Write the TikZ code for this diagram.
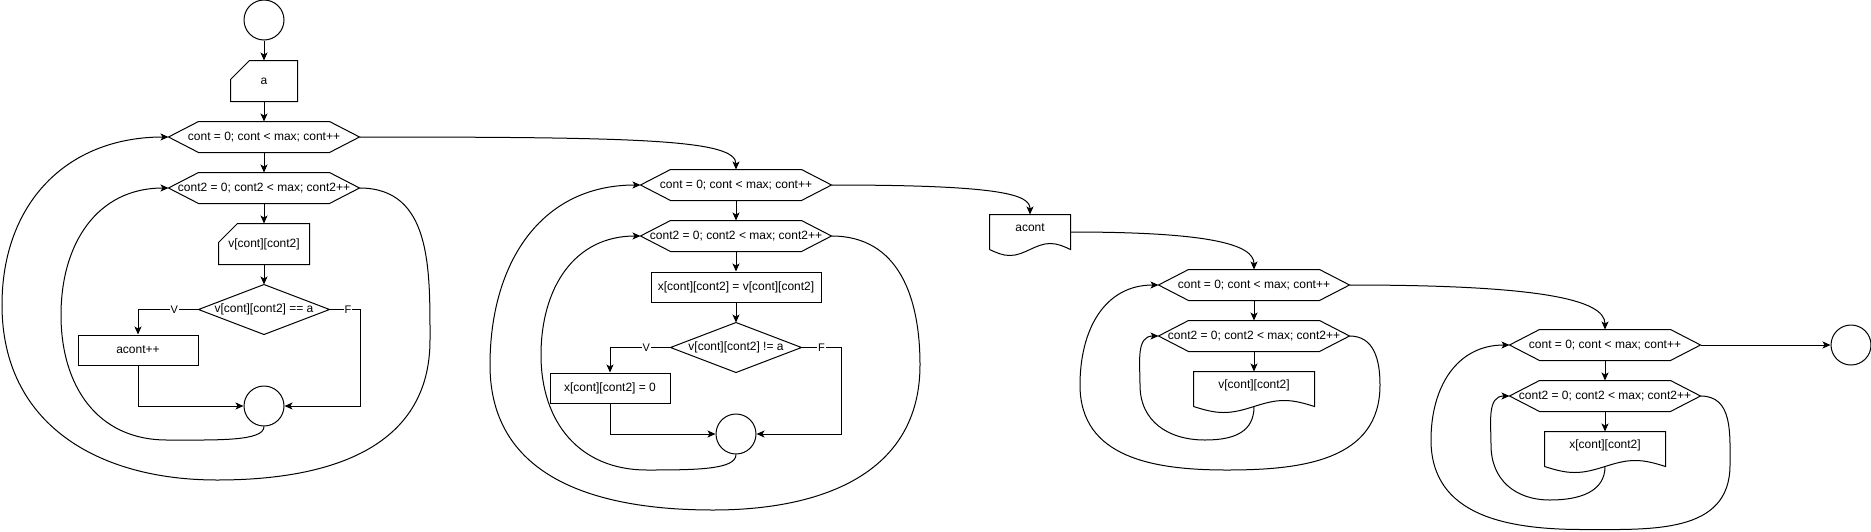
\documentclass[tikz,border=0pt]{standalone}
\usepackage{fontspec}
\setmainfont{Liberation Sans}
\usetikzlibrary{positioning,arrows.meta,calc}

\begin{document}
\begin{tikzpicture}[
  x=1pt,y=1pt,
  line width=1pt,
  font=\fontsize{12}{14}\selectfont,
  node distance=20pt,
  circ/.style={draw,circle,minimum size=40pt,inner sep=0pt},
  proc/.style={draw,minimum height=30pt,inner sep=2pt},
  loophex/.style={minimum width=190pt,minimum height=30pt,inner sep=0pt,
    append after command={\pgfextra{\draw (\tikzlastnode.west)
      -- ([xshift=30pt]\tikzlastnode.north west) -- ([xshift=-30pt]\tikzlastnode.north east)
      -- (\tikzlastnode.east) -- ([xshift=-30pt]\tikzlastnode.south east)
      -- ([xshift=30pt]\tikzlastnode.south west) -- cycle;}}},
  cond/.style={minimum width=130pt,minimum height=49pt,inner sep=0pt,
    append after command={\pgfextra{\draw (\tikzlastnode.west) -- (\tikzlastnode.north)
      -- (\tikzlastnode.east) -- (\tikzlastnode.south) -- cycle;}}},
  readin/.style={minimum height=40pt,inner sep=0pt,
    append after command={\pgfextra{\draw (\tikzlastnode.south west)
      -- ([yshift=-19pt]\tikzlastnode.north west) -- ([xshift=19pt]\tikzlastnode.north west)
      -- (\tikzlastnode.north east) -- (\tikzlastnode.south east) -- cycle;}}},
  printout/.style={minimum height=34pt,inner sep=0pt,text height=9pt,text depth=10pt,
    append after command={\pgfextra{\draw (\tikzlastnode.south west)
      -- (\tikzlastnode.north west) -- (\tikzlastnode.north east) -- (\tikzlastnode.south east)
      sin ($(\tikzlastnode.south east)!.25!(\tikzlastnode.south west)+(0,6)$)
      cos (\tikzlastnode.south)
      sin ($(\tikzlastnode.south west)!.25!(\tikzlastnode.south east)+(0,-6)$)
      cos (\tikzlastnode.south west);}}},
  lbl/.style={fill=white,inner sep=1pt,font=\fontsize{11}{13}\selectfont},
  arr/.style={-{Stealth[length=8pt,width=7pt,inset=2pt]}},
  back/.style={arr,looseness=1.1}
]
\useasboundingbox (0,0) rectangle (1871,-531);

% read a, count it in v
\node[circ] (start) at (264,-20) {};
\node[readin,minimum width=66pt,below=of start] (ina) {a};
\node[loophex,below=of ina] (fori1) {cont = 0; cont < max; cont++};
\node[loophex,below=of fori1] (forj1) {cont2 = 0; cont2 < max; cont2++};
\node[readin,minimum width=90pt,below=of forj1] (inv) {v[cont][cont2]};
\node[cond,below=of inv] (eqa) {v[cont][cont2] == a};
\node[proc,minimum width=120pt,below left=0pt and 0pt of eqa.south west] (inc) {acont++};
\node[circ,below=51pt of eqa] (join1) {};

\draw[arr] (start) -- (ina);
\draw[arr] (ina) -- (fori1);
\draw[arr] (fori1) -- (forj1);
\draw[arr] (forj1) -- (inv);
\draw[arr] (inv) -- (eqa);
\draw[arr] (eqa.west) -| node[lbl,pos=0.2]{V} (inc.north);
\draw[arr] (eqa.east) -- node[lbl,pos=0.6]{F} ++(31,0) |- (join1.east);
\draw[arr] (inc.south) |- (join1.west);
\draw[back] (join1.south) .. controls +(0,-15) and +(50,0) .. (167,-440)
  to[out=180,in=-90] (61,-315) to[out=90,in=180] (forj1.west);
\draw[back] (forj1.east) to[out=0,in=90] (430,-340) to[out=-90,in=0] (217,-480)
  to[out=180,in=-90] (2,-305) to[out=90,in=180] (fori1.west);

% build x
\node[loophex] (fori2) at (736,-185) {cont = 0; cont < max; cont++};
\node[loophex,below=of fori2] (forj2) {cont2 = 0; cont2 < max; cont2++};
\node[proc,minimum width=170pt,below=of forj2] (copy) {x[cont][cont2] = v[cont][cont2]};
\node[cond,below=of copy] (nea) {v[cont][cont2] != a};
\node[proc,minimum width=120pt,below left=0pt and 0pt of nea.south west] (zero) {x[cont][cont2] = 0};
\node[circ,below=41pt of nea] (join2) {};

\draw[arr] (fori1.east) .. controls +(280,0) and +(0,30) .. (fori2.north);
\draw[arr] (fori2) -- (forj2);
\draw[arr] (forj2) -- (copy);
\draw[arr] (copy) -- (nea);
\draw[arr] (nea.west) -| node[lbl,pos=0.2]{V} (zero.north);
\draw[arr] (nea.east) -- node[lbl]{F} ++(40,0) |- (join2.east);
\draw[arr] (zero.south) |- (join2.west);
\draw[back] (join2.south) .. controls +(0,-15) and +(50,0) .. (647,-470)
  to[out=180,in=-90] (541,-355) to[out=90,in=180] (forj2.west);
\draw[back] (forj2.east) to[out=0,in=90] (920,-365) to[out=-90,in=0] (713,-510)
  to[out=180,in=-90] (490,-365) to[out=90,in=180] (fori2.west);

% print acont and v
\node[printout,minimum width=80pt] (outa) at (1030,-232) {acont};
\node[loophex] (fori3) at (1254,-285) {cont = 0; cont < max; cont++};
\node[loophex,below=of fori3] (forj3) {cont2 = 0; cont2 < max; cont2++};
\node[printout,minimum width=120pt,below=of forj3] (outv) {v[cont][cont2]};

\draw[arr] (fori2.east) .. controls +(170,0) and +(0,20) .. (outa.north);
\draw[arr] (outa.east) .. controls +(140,0) and +(0,25) .. (fori3.north);
\draw[arr] (fori3) -- (forj3);
\draw[arr] (forj3) -- (outv);
\draw[back] (outv.south) .. controls +(0,-25) and +(30,0) .. (1205,-440)
  to[out=180,in=-90] (1140,-385) to[out=90,in=180] (forj3.west);
\draw[back] (forj3.east) to[out=0,in=90] (1380,-385) to[out=-90,in=0] (1227,-470)
  to[out=180,in=-90] (1080,-385) to[out=90,in=180] (fori3.west);

% print x
\node[loophex] (fori4) at (1605,-345) {cont = 0; cont < max; cont++};
\node[loophex,below=of fori4] (forj4) {cont2 = 0; cont2 < max; cont2++};
\node[printout,minimum width=120pt,below=of forj4] (outx) {x[cont][cont2]};
\node[circ,right=130pt of fori4] (stop) {};

\draw[arr] (fori3.east) .. controls +(190,0) and +(0,30) .. (fori4.north);
\draw[arr] (fori4) -- (forj4);
\draw[arr] (forj4) -- (outx);
\draw[back] (outx.south) .. controls +(0,-25) and +(30,0) .. (1550,-500)
  to[out=180,in=-90] (1491,-445) to[out=90,in=180] (forj4.west);
\draw[back] (forj4.east) to[out=0,in=90] (1730,-465) to[out=-90,in=0] (1583,-529.5)
  to[out=180,in=-90] (1431,-440) to[out=90,in=180] (fori4.west);
\draw[arr] (fori4) -- (stop);
\end{tikzpicture}
\end{document}
